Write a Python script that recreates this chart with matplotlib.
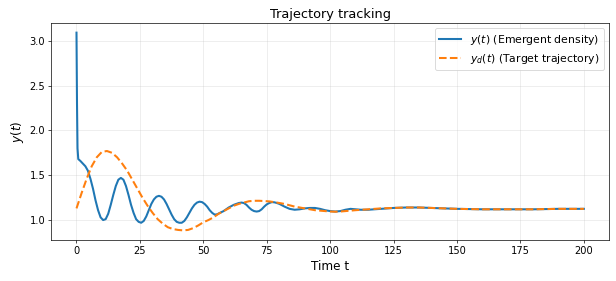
import matplotlib
matplotlib.use("Agg")
import matplotlib.pyplot as plt

# emergent density y(t)
t_y = [0, 0.2, 0.4, 0.7, 1.5, 2.5, 3.5, 4.5, 5.5, 6.5, 7.5, 8.5, 9.5, 10.5, 11.5,
       12.5, 13.5, 14.5, 15.5, 16.5, 17.5, 18.5, 19.5, 20.5, 21.5, 22.5, 23.5,
       24.5, 25.5, 26.5, 27.5, 28.5, 29.5, 30.5, 31.5, 32.5, 33.5, 34.5, 35.5,
       36.5, 37.5, 38.5, 39.5, 40.5, 41.5, 42.5, 43.5, 44.5, 45.5, 46.5, 47.5,
       48.5, 49.5, 50.5, 51.5, 52.5, 53.5, 54.5, 55.5, 56.5, 58, 60, 62, 64, 65,
       66, 67, 68, 69, 70, 71, 72, 73, 74, 75, 76, 77, 78, 79, 80, 82, 84, 86,
       88, 90, 92, 94, 96, 98, 100, 102, 104, 106, 108, 110, 112, 115, 120, 125,
       130, 135, 140, 150, 160, 170, 180, 190, 200]
y = [3.09, 2.30, 1.80, 1.68, 1.66, 1.63, 1.60, 1.55, 1.46, 1.35, 1.22, 1.11, 1.03,
     1.00, 1.01, 1.07, 1.17, 1.28, 1.38, 1.45, 1.47, 1.45, 1.38, 1.28, 1.17, 1.08,
     1.01, 0.98, 0.97, 0.99, 1.04, 1.11, 1.18, 1.23, 1.26, 1.27, 1.26, 1.23, 1.18,
     1.12, 1.06, 1.01, 0.98, 0.97, 0.97, 0.99, 1.03, 1.08, 1.13, 1.17, 1.195,
     1.205, 1.20, 1.18, 1.15, 1.11, 1.08, 1.06, 1.065, 1.08, 1.10, 1.14, 1.17,
     1.19, 1.195, 1.19, 1.17, 1.14, 1.115, 1.10, 1.095, 1.10, 1.12, 1.15, 1.175,
     1.19, 1.20, 1.198, 1.19, 1.18, 1.15, 1.125, 1.115, 1.12, 1.13, 1.135, 1.135,
     1.125, 1.11, 1.10, 1.095, 1.10, 1.115, 1.125, 1.12, 1.115, 1.115, 1.125,
     1.135, 1.14, 1.14, 1.135, 1.125, 1.12, 1.12, 1.12, 1.125, 1.125]

# target trajectory y_d(t)
t_d = [0, 2, 4, 6, 8, 10, 12, 14, 16, 18, 20, 22, 24, 26, 28, 30, 32, 34, 36, 38,
       40, 42, 44, 46, 48, 50, 52, 54, 56, 58, 60, 62, 64, 66, 68, 70, 72, 74, 76,
       78, 80, 82, 84, 86, 88, 90, 92, 94, 96, 98, 100, 102, 104, 106, 108, 110,
       115, 120, 125, 130, 135, 140, 145, 150, 160, 170, 180, 190, 200]
y_d = [1.13, 1.30, 1.46, 1.60, 1.70, 1.76, 1.77, 1.75, 1.70, 1.63, 1.55, 1.45,
       1.35, 1.25, 1.16, 1.08, 1.01, 0.96, 0.92, 0.90, 0.89, 0.885, 0.89, 0.91,
       0.94, 0.975, 1.00, 1.03, 1.07, 1.10, 1.13, 1.16, 1.18, 1.195, 1.21, 1.215,
       1.215, 1.212, 1.208, 1.20, 1.19, 1.18, 1.165, 1.15, 1.14, 1.13, 1.12, 1.11,
       1.105, 1.10, 1.095, 1.093, 1.095, 1.10, 1.105, 1.11, 1.12, 1.13, 1.135,
       1.14, 1.14, 1.135, 1.13, 1.125, 1.12, 1.12, 1.12, 1.125, 1.125]

fig, ax = plt.subplots(figsize=(10, 281 / 61.6), dpi=61.6)
fig.subplots_adjust(left=0.083, right=0.989, bottom=0.145, top=0.919)

ax.plot(t_y, y, color='tab:blue', lw=2.4, label='$y(t)$ (Emergent density)')
ax.plot(t_d, y_d, color='tab:orange', lw=2.4, ls='--',
        label='$y_d(t)$ (Target trajectory)')

ax.set_title('Trajectory tracking', fontsize=15)
ax.set_xlabel('Time t', fontsize=14)
ax.set_ylabel('$y(t)$', fontsize=14)
ax.tick_params(labelsize=11.5)
ax.grid(True, alpha=0.3)
ax.legend(loc='upper right', fontsize=12.8)

fig.savefig('out.png', dpi=61.6)
